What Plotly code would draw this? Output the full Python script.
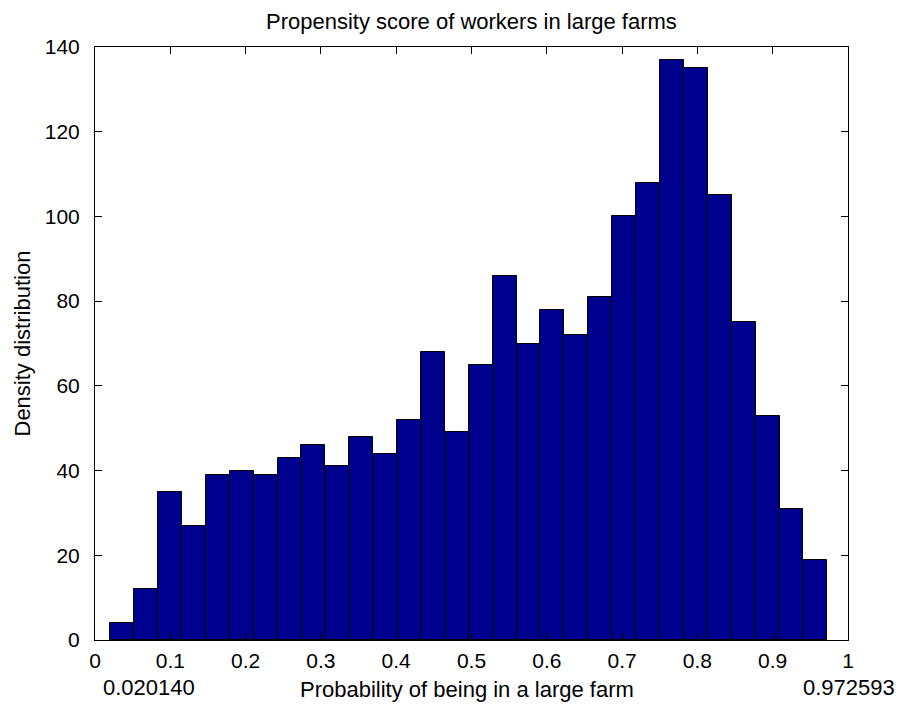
import numpy as np
import plotly.graph_objects as go

# Histogram of estimated propensity scores (30 equal-width bins)
score_min = 0.020140
score_max = 0.972593
counts = [4, 12, 35, 27, 39, 40, 39, 43, 46, 41,
          48, 44, 52, 68, 49, 65, 86, 70, 78, 72,
          81, 100, 108, 137, 135, 105, 75, 53, 31, 19]
x_ticks = [0, 0.1, 0.2, 0.3, 0.4, 0.5, 0.6, 0.7, 0.8, 0.9, 1]
x_tick_text = ["0", "0.1", "0.2", "0.3", "0.4", "0.5", "0.6", "0.7", "0.8", "0.9", "1"]
y_ticks = [0, 20, 40, 60, 80, 100, 120, 140]

n_bins = len(counts)
edges = np.linspace(score_min, score_max, n_bins + 1)
centers = (edges[:-1] + edges[1:]) / 2
width = edges[1] - edges[0]

FONT = "Liberation Sans, Arial, sans-serif"

fig = go.Figure(
    go.Bar(
        x=centers,
        y=counts,
        width=width,
        marker=dict(color="#00008F", line=dict(color="black", width=1)),
        hoverinfo="x+y",
    )
)

axis_common = dict(
    showgrid=False,
    zeroline=False,
    showline=True,
    linecolor="black",
    linewidth=1,
    mirror="ticks",
    ticks="inside",
    ticklen=7,
    tickcolor="black",
    tickwidth=1,
    tickfont=dict(family=FONT, size=21, color="black"),
)

fig.update_xaxes(range=[0, 1], tickvals=x_ticks, ticktext=x_tick_text,
                 ticklabelstandoff=2, **axis_common)
fig.update_yaxes(range=[0, 140], tickvals=y_ticks,
                 ticklabelstandoff=10, **axis_common)

annotations = [
    dict(text="Propensity score of workers in large farms", xref="paper", yref="paper",
         x=0.5, y=1, yanchor="bottom", yshift=11, showarrow=False,
         font=dict(family=FONT, size=22, color="black")),
    dict(text="Probability of being in a large farm", xref="paper", yref="paper",
         x=0.5, y=0, yanchor="middle", yshift=-49, xshift=-5, showarrow=False,
         font=dict(family=FONT, size=22, color="black")),
    dict(text="Density distribution", xref="paper", yref="paper",
         x=0, y=0.5, xanchor="center", xshift=-73, textangle=-90, showarrow=False,
         font=dict(family=FONT, size=22, color="black")),
    dict(text=f"{score_min:.6f}", xref="x", yref="paper",
         x=score_min, y=0, xanchor="left", yanchor="middle", xshift=-9, yshift=-47,
         showarrow=False, font=dict(family=FONT, size=22, color="black")),
    dict(text=f"{score_max:.6f}", xref="x", yref="paper",
         x=score_max, y=0, xanchor="center", yanchor="middle", xshift=22, yshift=-47,
         showarrow=False, font=dict(family=FONT, size=22, color="black")),
]

fig.update_layout(
    width=900,
    height=707,
    margin=dict(l=95, r=52, t=47, b=67),
    paper_bgcolor="white",
    plot_bgcolor="white",
    bargap=0,
    showlegend=False,
    annotations=annotations,
)

fig.write_html("out.html")
